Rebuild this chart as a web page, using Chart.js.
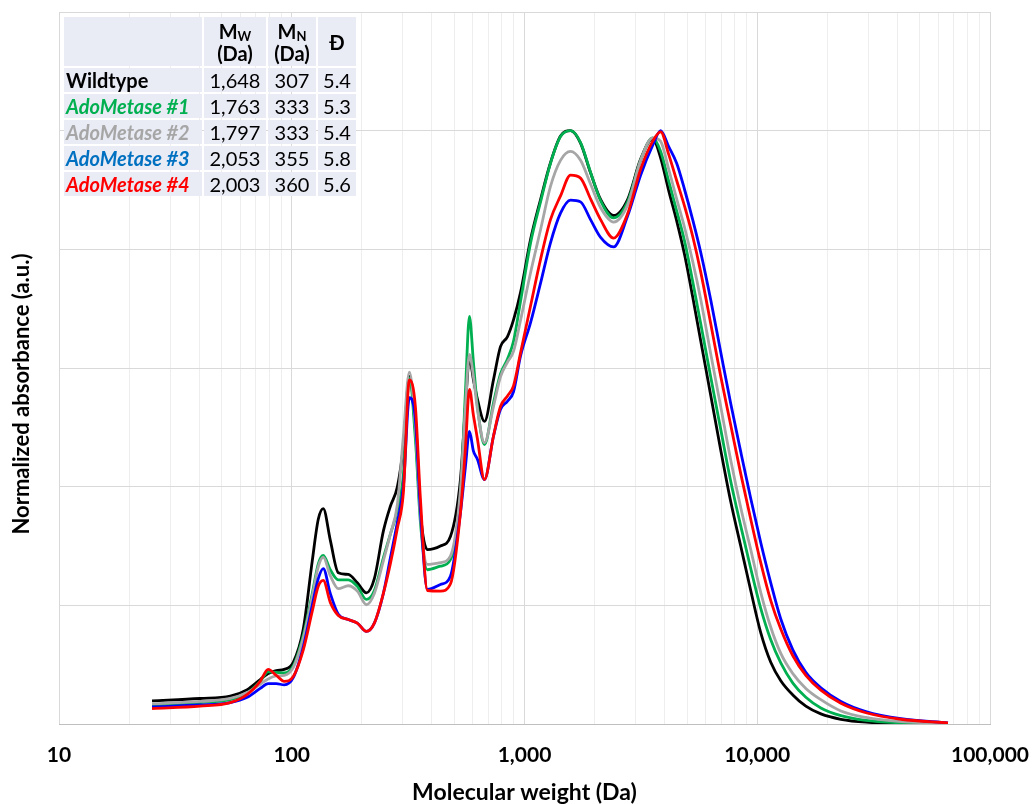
<!DOCTYPE html>
<html>
<head>
<meta charset="utf-8">
<script src="https://cdn.jsdelivr.net/npm/chart.js@4"></script>
<style>
body{margin:0;background:#fff;}
#quadro{position:relative;width:1032px;height:804px;}
#tabela{position:absolute;left:62px;top:15px;border-collapse:separate;border-spacing:2px;table-layout:fixed;font-family:Lato,sans-serif;font-size:20px;color:#000;}
#tabela td{background:#e9ebf5;padding:0;height:24px;line-height:24px;text-align:center;white-space:nowrap;}
#tabela td.nome{text-align:left;padding-left:2px;font-weight:bold;}
#tabela tr.cab td{height:49px;line-height:22px;font-weight:bold;}
#tabela sub{font-size:13px;vertical-align:-2px;line-height:0;}
#tituloY{position:absolute;left:-179px;top:381px;width:400px;height:26px;line-height:26px;text-align:center;transform:rotate(-90deg);font-family:Lato,sans-serif;font-weight:bold;font-size:22px;color:#000;}
</style>
</head>
<body>
<div id="quadro">
  <canvas id="grafico" width="1032" height="804"></canvas>
  <table id="tabela"></table>
  <div id="tituloY">Normalized absorbance (a.u.)</div>
</div>
<script>
// amostras e tabela de massas
const amostras = ["Wildtype", "AdoMetase #1", "AdoMetase #2", "AdoMetase #3", "AdoMetase #4"];
const coresTexto = ["#000000", "#00b050", "#a6a6a6", "#0070c0", "#ff0000"];
const coresLinha = ["#000000", "#00b050", "#a6a6a6", "#0000ff", "#ff0000"];
const mwTabela = [1648, 1763, 1797, 2053, 2003];
const mnTabela = [307, 333, 333, 355, 360];
const dispersidade = [5.4, 5.3, 5.4, 5.8, 5.6];

// eixo x: massa molecular (Da)
const massa = [25.1, 40.4, 54.4, 64.4, 73.2, 79.2, 85.8, 92.8, 101.5, 112.1,
  122.5, 130.0, 136.6, 146.4, 158.5, 175.0, 191.3, 209.2, 226.4, 247.5,
  265.3, 284.3, 301.7, 320.2, 339.8, 357.1, 382.6, 435.3, 480.5, 530.6,
  557.5, 580.0, 603.5, 628.0, 672.9, 735.6, 788.4, 845.1, 896.9, 961.2,
  1061, 1172, 1293, 1428, 1577, 1741, 1922, 2123, 2414, 2773,
  3154, 3552, 3846, 4164, 4506, 4878, 5279, 5715, 6310, 6966,
  7691, 8491, 9376, 10350, 11430, 12620, 14220, 16170, 18760, 22870,
  29290, 41420, 66000];

const wildtype = [0.039, 0.043, 0.047, 0.058, 0.075, 0.085, 0.090, 0.092, 0.104, 0.160,
  0.275, 0.345, 0.363, 0.310, 0.255, 0.252, 0.238, 0.221, 0.245, 0.325,
  0.367, 0.400, 0.468, 0.586, 0.496, 0.356, 0.294, 0.300, 0.316, 0.412,
  0.535, 0.617, 0.580, 0.547, 0.510, 0.580, 0.636, 0.653, 0.681, 0.727,
  0.816, 0.884, 0.946, 0.991, 1.000, 0.979, 0.929, 0.884, 0.857, 0.884,
  0.952, 0.986, 0.954, 0.899, 0.848, 0.790, 0.720, 0.646, 0.554, 0.462,
  0.375, 0.300, 0.225, 0.154, 0.104, 0.073, 0.049, 0.030, 0.017, 0.008,
  0.003, 0.001, 0.000];

const ado1 = [0.032, 0.036, 0.041, 0.052, 0.072, 0.088, 0.087, 0.086, 0.098, 0.150,
  0.220, 0.270, 0.284, 0.260, 0.243, 0.243, 0.232, 0.210, 0.225, 0.280,
  0.320, 0.360, 0.420, 0.583, 0.480, 0.340, 0.260, 0.266, 0.277, 0.384,
  0.560, 0.687, 0.609, 0.535, 0.471, 0.541, 0.590, 0.615, 0.645, 0.712,
  0.810, 0.880, 0.945, 0.990, 1.000, 0.980, 0.930, 0.882, 0.853, 0.880,
  0.950, 0.988, 0.965, 0.915, 0.865, 0.813, 0.746, 0.675, 0.585, 0.497,
  0.409, 0.334, 0.262, 0.195, 0.142, 0.103, 0.069, 0.045, 0.027, 0.014,
  0.006, 0.002, 0.000];

const ado2 = [0.034, 0.038, 0.043, 0.053, 0.067, 0.076, 0.081, 0.082, 0.095, 0.145,
  0.215, 0.265, 0.281, 0.250, 0.228, 0.233, 0.224, 0.201, 0.220, 0.275,
  0.320, 0.370, 0.485, 0.593, 0.500, 0.350, 0.269, 0.272, 0.283, 0.395,
  0.535, 0.623, 0.585, 0.530, 0.474, 0.535, 0.585, 0.610, 0.628, 0.680,
  0.760, 0.833, 0.906, 0.950, 0.965, 0.950, 0.910, 0.870, 0.846, 0.875,
  0.950, 0.988, 0.982, 0.935, 0.885, 0.836, 0.780, 0.716, 0.624, 0.535,
  0.445, 0.365, 0.294, 0.222, 0.163, 0.119, 0.085, 0.060, 0.041, 0.022,
  0.011, 0.004, 0.001];

const ado3 = [0.029, 0.032, 0.036, 0.045, 0.060, 0.068, 0.068, 0.066, 0.078, 0.130,
  0.200, 0.245, 0.262, 0.220, 0.185, 0.176, 0.170, 0.156, 0.170, 0.220,
  0.280, 0.340, 0.400, 0.550, 0.513, 0.360, 0.227, 0.235, 0.249, 0.356,
  0.434, 0.493, 0.460, 0.446, 0.412, 0.485, 0.530, 0.544, 0.560, 0.620,
  0.676, 0.743, 0.811, 0.861, 0.883, 0.880, 0.850, 0.820, 0.804, 0.856,
  0.925, 0.975, 1.000, 0.973, 0.945, 0.900, 0.850, 0.795, 0.715, 0.627,
  0.540, 0.459, 0.380, 0.306, 0.238, 0.177, 0.125, 0.087, 0.061, 0.038,
  0.021, 0.009, 0.002];

const ado4 = [0.026, 0.030, 0.036, 0.050, 0.072, 0.092, 0.082, 0.072, 0.080, 0.125,
  0.190, 0.232, 0.242, 0.205, 0.183, 0.176, 0.170, 0.156, 0.170, 0.220,
  0.270, 0.330, 0.390, 0.580, 0.535, 0.380, 0.225, 0.224, 0.236, 0.356,
  0.465, 0.564, 0.520, 0.480, 0.412, 0.485, 0.535, 0.553, 0.570, 0.625,
  0.704, 0.783, 0.850, 0.890, 0.925, 0.920, 0.885, 0.850, 0.819, 0.860,
  0.935, 0.982, 0.998, 0.960, 0.916, 0.872, 0.822, 0.762, 0.675, 0.586,
  0.504, 0.422, 0.345, 0.272, 0.208, 0.160, 0.115, 0.082, 0.057, 0.035,
  0.019, 0.008, 0.002];

const series = [wildtype, ado1, ado2, ado3, ado4];
// ordem de desenho: vermelho por cima
const ordem = [4, 3, 2, 1, 0];

function eDecada(v){
    const l = Math.log10(v);
    return Math.abs(l - Math.round(l)) < 1e-9;
}

// ticks 10, 20, ..., 90, 100, 200, ... 100000
const ticksX = [];
for(let e = 1; e <= 4; e++){
    for(let m = 1; m <= 9; m++){
        ticksX.push(m * Math.pow(10, e));
    }
}
ticksX.push(100000);

function montarTabela(){
    const tabela = document.getElementById("tabela");
    let html = '<colgroup><col style="width:138px"><col style="width:62px"><col style="width:48px"><col style="width:38px"></colgroup>';
    html += '<tr class="cab"><td></td><td>M<sub>W</sub><br>(Da)</td><td>M<sub>N</sub><br>(Da)</td><td>Đ</td></tr>';
    amostras.forEach((nome, i)=>{
        const estilo = "color:" + coresTexto[i] + (i > 0 ? ";font-style:italic" : "");
        html += '<tr><td class="nome" style="' + estilo + '">' + nome + '</td>' +
            '<td>' + mwTabela[i].toLocaleString("en-US") + '</td>' +
            '<td>' + mnTabela[i] + '</td>' +
            '<td>' + dispersidade[i].toFixed(1) + '</td></tr>';
    });
    tabela.innerHTML = html;
}

function criarGrafico(){
    const datasets = series.map((valores, i)=>({
        label: amostras[i],
        data: valores.map((v, j)=>({x: massa[j], y: v})),
        borderColor: coresLinha[i],
        borderWidth: 2.8,
        pointRadius: 0,
        cubicInterpolationMode: "monotone",
        fill: false,
        order: ordem[i]
    }));

    new Chart(document.getElementById("grafico"), {
        type: "line",
        data: {datasets: datasets},
        options: {
            responsive: false,
            animation: false,
            layout: {padding: {left: 0, right: 42, top: 12, bottom: 0}},
            plugins: {
                legend: {display: false},
                tooltip: {enabled: false}
            },
            scales: {
                x: {
                    type: "logarithmic",
                    min: 10,
                    max: 100000,
                    afterBuildTicks: s=>{ s.ticks = ticksX.map(v=>({value: v})); },
                    afterFit: s=>{ s.height = 80; },
                    grid: {
                        color: c=> (c.tick && eDecada(c.tick.value)) ? "#d9d9d9" : "#eeeeee",
                        drawTicks: true,
                        tickLength: 19,
                        tickColor: "rgba(0,0,0,0)"
                    },
                    border: {color: "#bfbfbf"},
                    ticks: {
                        autoSkip: false,
                        maxRotation: 0,
                        padding: 0,
                        color: "#000",
                        font: {family: "Lato", size: 21, weight: "bold"},
                        callback: v=> eDecada(v) ? Number(v).toLocaleString("en-US") : ""
                    },
                    title: {
                        display: true,
                        text: "Molecular weight (Da)",
                        color: "#000",
                        font: {family: "Lato", size: 23, weight: "bold", lineHeight: 1},
                        padding: {top: 0, bottom: 0}
                    }
                },
                y: {
                    min: 0,
                    max: 1.2,
                    afterFit: s=>{ s.width = 59; },
                    ticks: {display: false, stepSize: 0.2},
                    grid: {color: "#d9d9d9", drawTicks: false},
                    border: {display: false}
                }
            }
        }
    });
}

montarTabela();
criarGrafico();
</script>
</body>
</html>
